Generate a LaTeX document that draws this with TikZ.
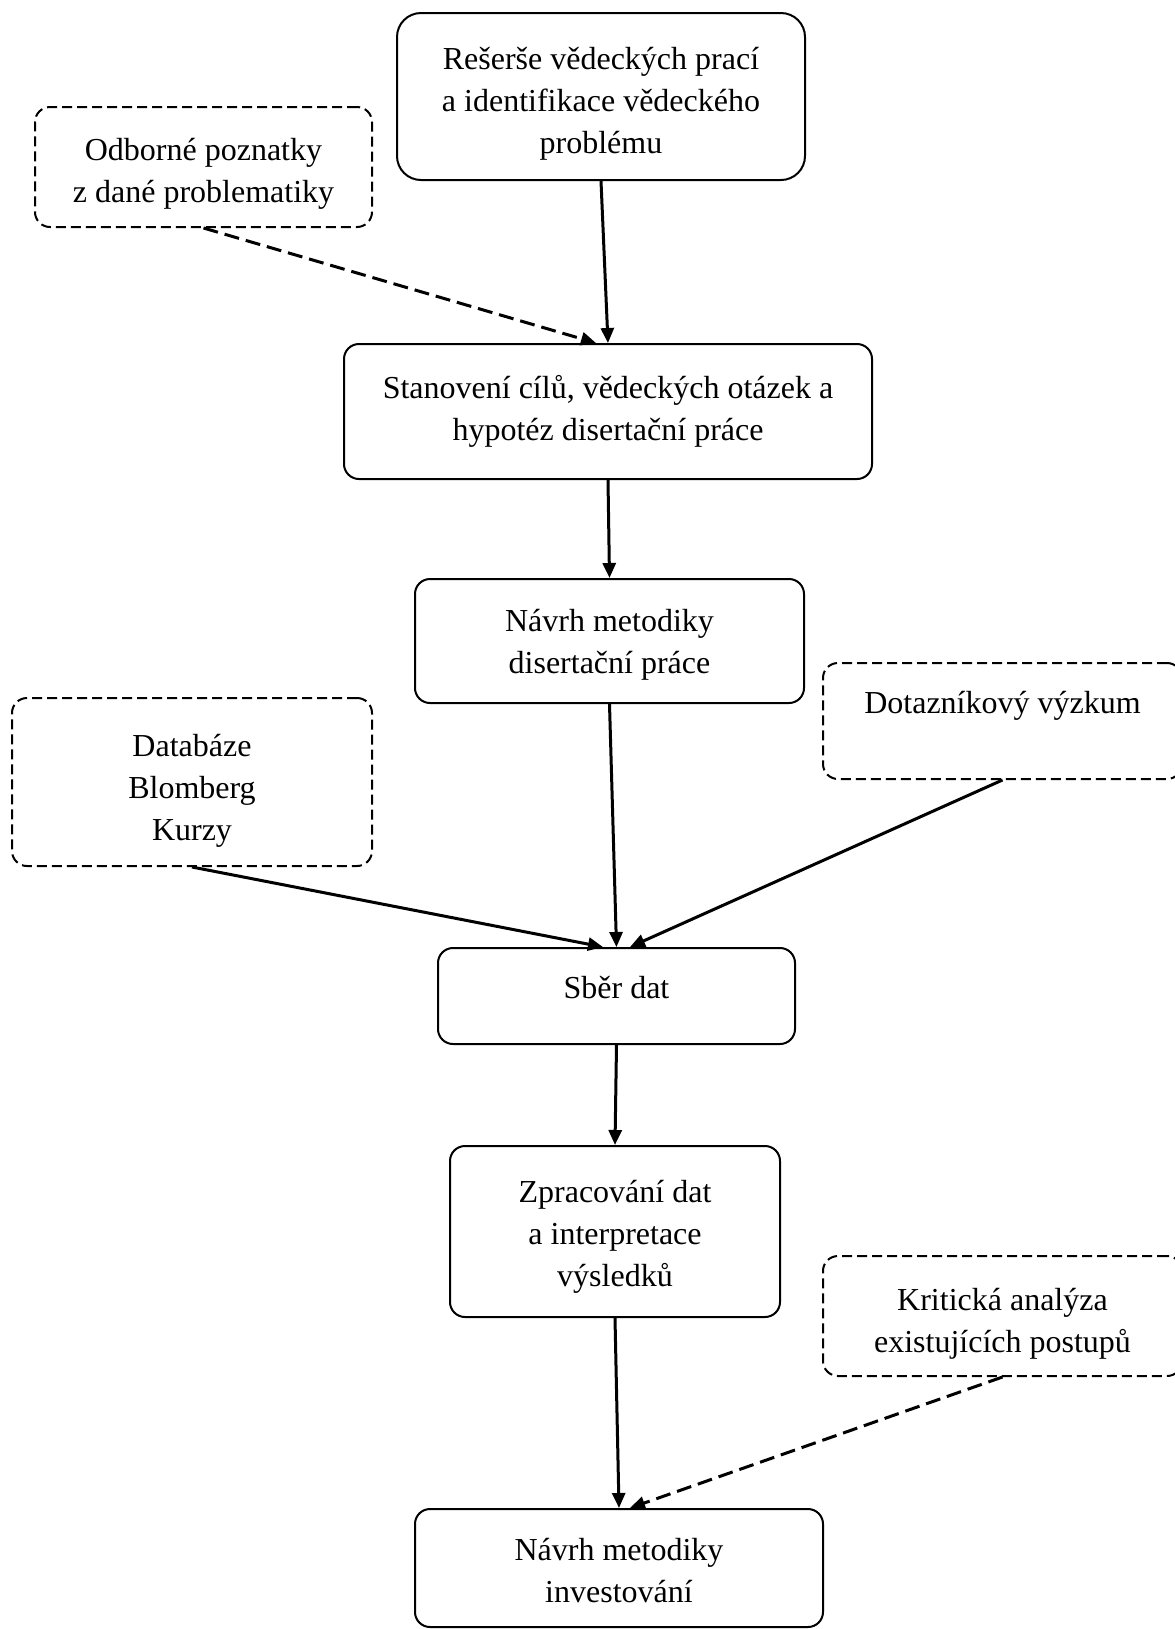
\documentclass[tikz,border=0pt]{standalone}
\usepackage{fontspec}
\setmainfont{Liberation Serif}
\usetikzlibrary{arrows.meta}
\begin{document}
\begin{tikzpicture}[x=0.5pt,y=-0.5pt,
  box/.style={draw, line width=1pt, rounded corners=7.5pt, align=center,
    font=\fontsize{16pt}{21pt}\selectfont, inner sep=0pt, text depth=4pt},
  dbox/.style={box, dash pattern=on 5pt off 2.5pt},
  arr/.style={line width=1.5pt, -{Triangle[length=7.5pt,width=6.5pt]}},
  darr/.style={arr, dash pattern=on 7.5pt off 3.5pt}]
\useasboundingbox (0,0) rectangle (1174,1629);
\node[box, rounded corners=12pt, minimum width=204pt, minimum height=83.5pt, text height=60.5pt] (r1) at (601,96.5)
  {Rešerše vědeckých prací\\a identifikace vědeckého\\problému};
\node[dbox, minimum width=168.5pt, minimum height=60pt, text height=39pt] (od) at (203.5,167)
  {Odborné poznatky\\z dané problematiky};
\node[box, minimum width=264pt, minimum height=67.5pt, text height=32.5pt] (st) at (608,411.5)
  {Stanovení cílů, vědeckých otázek a\\hypotéz disertační práce};
\node[box, minimum width=194.5pt, minimum height=62pt, text height=36pt] (nm) at (609.5,641)
  {Návrh metodiky\\disertační práce};
\node[dbox, minimum width=180pt, minimum height=84pt, text height=62.5pt] (db) at (192,782)
  {Databáze\\Blomberg\\Kurzy};
\node[dbox, minimum width=179.5pt, minimum height=58pt, align=none, text height=11pt, text depth=19pt] (dt) at (1002.5,721)
  {Dotazníkový výzkum};
\node[box, minimum width=178.5pt, minimum height=48pt, align=none, text height=11pt, text depth=9pt] (sb) at (616.5,996)
  {Sběr dat};
\node[box, minimum width=165pt, minimum height=85.5pt, text height=59pt] (zp) at (615,1231.5)
  {Zpracování dat\\a interpretace\\výsledků};
\node[dbox, minimum width=179.5pt, minimum height=60pt, text height=40pt] (kr) at (1002.5,1316)
  {Kritická analýza\\existujících postupů};
\node[box, minimum width=204pt, minimum height=59pt, text height=38.5pt] (ni) at (619,1568)
  {Návrh metodiky\\investování};

\draw[arr] (r1.south) -- (st.north);
\draw[darr] (od.south) -- ([xshift=-6pt]st.north);
\draw[arr] (st.south) -- (nm.north);
\draw[arr] (nm.south) -- (sb.north);
\draw[arr] (db.south) -- ([xshift=-6.75pt]sb.north);
\draw[arr] (dt.south) -- ([xshift=6.75pt]sb.north);
\draw[arr] (sb.south) -- (zp.north);
\draw[arr] (zp.south) -- (ni.north);
\draw[darr] (kr.south) -- ([xshift=5.5pt]ni.north);
\end{tikzpicture}
\end{document}
